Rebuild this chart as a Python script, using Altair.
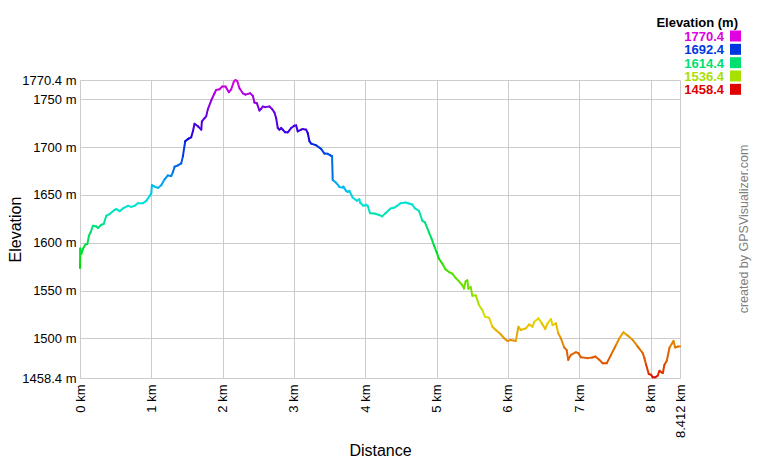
import altair as alt
import pandas as pd

# distance (km) and elevation (m) read from the profile
km = [0.000, 0.003, 0.019, 0.042, 0.079, 0.103, 0.126, 0.149, 0.182, 0.229, 0.252, 0.299, 0.332, 0.369,
      0.415, 0.486, 0.509, 0.556, 0.602, 0.672, 0.719, 0.766, 0.812, 0.882, 0.929, 0.985, 1.000, 1.008,
      1.046, 1.092, 1.139, 1.186, 1.232, 1.279, 1.303, 1.326, 1.373, 1.419, 1.443, 1.475, 1.522, 1.559,
      1.583, 1.606, 1.653, 1.700, 1.709, 1.746, 1.769, 1.793, 1.839, 1.886, 1.909, 1.956, 1.993, 2.040,
      2.087, 2.120, 2.157, 2.180, 2.204, 2.236, 2.283, 2.320, 2.386, 2.423, 2.446, 2.479, 2.516, 2.540,
      2.563, 2.596, 2.656, 2.694, 2.726, 2.750, 2.773, 2.796, 2.820, 2.843, 2.876, 2.913, 2.960, 3.006,
      3.030, 3.053, 3.100, 3.123, 3.170, 3.193, 3.217, 3.240, 3.310, 3.380, 3.427, 3.473, 3.511, 3.534,
      3.543, 3.590, 3.637, 3.684, 3.693, 3.730, 3.753, 3.777, 3.823, 3.880, 3.917, 3.926, 3.973, 4.010,
      4.033, 4.066, 4.127, 4.197, 4.237, 4.283, 4.354, 4.400, 4.447, 4.494, 4.564, 4.611, 4.658, 4.696,
      4.752, 4.799, 4.836, 4.892, 4.930, 4.963, 5.000, 5.033, 5.080, 5.126, 5.173, 5.220, 5.267, 5.314,
      5.361, 5.384, 5.407, 5.431, 5.445, 5.478, 5.501, 5.548, 5.595, 5.642, 5.679, 5.735, 5.782, 5.829,
      5.899, 5.946, 5.993, 6.040, 6.110, 6.147, 6.180, 6.251, 6.297, 6.344, 6.368, 6.428, 6.475, 6.522,
      6.555, 6.602, 6.625, 6.672, 6.705, 6.742, 6.789, 6.822, 6.845, 6.883, 6.953, 6.986, 7.023, 7.117,
      7.187, 7.225, 7.281, 7.328, 7.384, 7.445, 7.515, 7.562, 7.618, 7.679, 7.749, 7.820, 7.890, 7.913,
      7.937, 7.974, 8.007, 8.030, 8.068, 8.101, 8.124, 8.148, 8.171, 8.194, 8.227, 8.265, 8.302, 8.321,
      8.344, 8.382, 8.412]
elev = [1573.5, 1594.0, 1588.4, 1593.6, 1598.4, 1598.8, 1607.5, 1611.0, 1617.9, 1617.0, 1615.4, 1618.9, 1619.6, 1628.3,
        1630.0, 1634.5, 1635.2, 1633.1, 1635.9, 1638.7, 1637.6, 1638.7, 1641.4, 1641.4, 1643.9, 1649.8, 1651.8, 1660.2,
        1658.8, 1657.4, 1660.2, 1666.4, 1670.5, 1669.9, 1674.0, 1679.6, 1681.0, 1683.0, 1690.7, 1706.3, 1709.0, 1710.4,
        1716.7, 1724.6, 1721.9, 1718.4, 1727.0, 1730.5, 1732.3, 1739.9, 1748.9, 1756.5, 1760.0, 1760.7, 1763.5, 1763.5,
        1757.6, 1760.7, 1768.7, 1770.4, 1769.4, 1761.7, 1756.5, 1755.1, 1756.5, 1753.8, 1746.8, 1746.1, 1738.5, 1740.3,
        1742.7, 1742.0, 1742.7, 1739.9, 1736.4, 1730.5, 1720.1, 1718.4, 1720.1, 1718.4, 1715.6, 1715.6, 1720.1, 1722.6,
        1722.9, 1716.6, 1718.4, 1719.0, 1718.4, 1714.9, 1706.3, 1703.8, 1702.1, 1698.3, 1693.4, 1693.1, 1691.4, 1690.7,
        1665.7, 1662.9, 1658.4, 1657.7, 1658.8, 1654.3, 1653.2, 1654.3, 1647.3, 1643.9, 1645.6, 1642.1, 1638.7, 1639.7,
        1638.7, 1631.0, 1630.7, 1629.0, 1627.6, 1631.0, 1635.9, 1636.6, 1638.7, 1641.4, 1642.1, 1641.1, 1640.0, 1635.9,
        1633.5, 1623.1, 1621.3, 1610.9, 1604.0, 1597.0, 1590.1, 1583.2, 1578.0, 1572.1, 1569.3, 1567.6, 1563.1, 1559.6,
        1555.5, 1552.0, 1559.6, 1560.7, 1552.0, 1553.7, 1544.4, 1545.1, 1534.6, 1529.4, 1522.5, 1521.5, 1512.1, 1508.7,
        1504.1, 1500.0, 1497.2, 1498.2, 1497.2, 1512.1, 1508.7, 1510.4, 1514.5, 1512.1, 1517.3, 1520.8, 1515.6, 1509.7,
        1515.6, 1520.1, 1513.8, 1515.6, 1505.2, 1500.0, 1490.3, 1487.8, 1477.4, 1482.6, 1485.4, 1484.4, 1480.2, 1479.2,
        1479.9, 1480.9, 1477.4, 1473.9, 1473.9, 1482.6, 1493.0, 1500.0, 1506.2, 1502.8, 1498.2, 1491.3, 1484.4, 1479.2,
        1472.3, 1462.5, 1461.8, 1459.1, 1459.1, 1461.1, 1466.0, 1464.6, 1463.6, 1472.3, 1476.4, 1490.3, 1494.8, 1497.2,
        1490.3, 1491.3, 1491.3]

x_ticks = [0, 1, 2, 3, 4, 5, 6, 7, 8, 8.412]
y_ticks = [1458.4, 1500, 1550, 1600, 1650, 1700, 1750, 1770.4]

legend_labels = ["1770.4", "1692.4", "1614.4", "1536.4", "1458.4"]
legend_colors = ["#e000e0", "#0038e0", "#00e070", "#a8e000", "#e00000"]

# hue ramp (red -> magenta) for elevation colouring
ramp_colors = ["#e00000", "#e07000", "#e0e000", "#70e000", "#00e000", "#00e070",
               "#00e0e0", "#0070e0", "#0000e0", "#7000e0", "#e000e0"]
e_min, e_max = 1458.4, 1770.4
ramp_domain = [e_min + (e_max - e_min) * i / 10 for i in range(11)]

FONT = "Liberation Sans"

seg = pd.DataFrame({
    "km": km[:-1], "km2": km[1:],
    "elev": elev[:-1], "elev2": elev[1:],
})
seg["emid"] = (seg["elev"] + seg["elev2"]) / 2

profile = alt.Chart(seg).mark_rule(strokeWidth=2, strokeCap="round").encode(
    x=alt.X("km:Q",
            scale=alt.Scale(domain=[0, 8.412], nice=False, zero=False),
            axis=alt.Axis(values=x_ticks, labelExpr="format(datum.value, '.3~f') + ' km'",
                          labelAngle=270, labelAlign="right", labelBaseline="middle",
                          labelPadding=6, tickSize=0, domain=False, grid=True,
                          gridColor="#cccccc", gridWidth=1, labelFont=FONT, labelFontSize=13,
                          labelColor="#000000", title="Distance", titleFont=FONT,
                          titleFontSize=16, titleFontWeight="normal", titleColor="#000000",
                          titleX=300, titleY=72, titleBaseline="middle", titleAlign="center",
                          labelOverlap=False)),
    y=alt.Y("elev:Q",
            scale=alt.Scale(domain=[e_min, e_max], nice=False, zero=False),
            axis=alt.Axis(values=y_ticks, labelExpr="format(datum.value, '.1~f') + ' m'",
                          labelPadding=4, tickSize=0, domain=False, grid=True,
                          gridColor="#cccccc", gridWidth=1, labelFont=FONT, labelFontSize=13,
                          labelColor="#000000", title="Elevation", titleFont=FONT,
                          titleFontSize=16, titleFontWeight="normal", titleColor="#000000",
                          titleAngle=270, titleX=-65, titleY=149, titleAlign="center",
                          titleBaseline="middle", labelOverlap=False)),
    x2="km2:Q",
    y2="elev2:Q",
    color=alt.Color("emid:Q", scale=alt.Scale(domain=ramp_domain, range=ramp_colors), legend=None),
)

leg_df = pd.DataFrame({"label": legend_labels, "color": legend_colors, "i": list(range(5))})

leg_base = alt.Chart(leg_df).transform_calculate(
    ty="-39 + 13.33 * datum.i",
    sy="-44 + 13.33 * datum.i",
)
leg_text = leg_base.mark_text(font=FONT, fontSize=13, fontWeight="bold", align="right",
                              baseline="alphabetic").encode(
    x=alt.value(644),
    y=alt.Y("ty:Q", scale=None, axis=None),
    text="label:N",
    color=alt.Color("color:N", scale=None),
)
leg_sq = leg_base.mark_square(size=121, opacity=1, filled=True).encode(
    x=alt.value(655.5),
    y=alt.Y("sy:Q", scale=None, axis=None),
    color=alt.Color("color:N", scale=None),
)
leg_title = alt.Chart(pd.DataFrame({"t": ["Elevation (m)"]})).mark_text(
    font=FONT, fontSize=13, fontWeight="bold", align="right", baseline="alphabetic",
    color="#000000").encode(x=alt.value(658), y=alt.value(-53), text="t:N")

credit = alt.Chart(pd.DataFrame({"t": ["created by GPSVisualizer.com"]})).mark_text(
    font=FONT, fontSize=12.5, angle=270, align="center", baseline="middle",
    color="#808080").encode(x=alt.value(664), y=alt.value(149), text="t:N")

chart = alt.layer(profile, leg_text, leg_sq, leg_title, credit).properties(
    width=600, height=298,
    autosize=alt.AutoSizeParams(type="none"),
    padding={"left": 72, "top": 72, "right": 72, "bottom": 80},
).configure_view(stroke=None).configure(background="white")

chart.save("out.html", embed_options={"renderer": "svg", "actions": False})
